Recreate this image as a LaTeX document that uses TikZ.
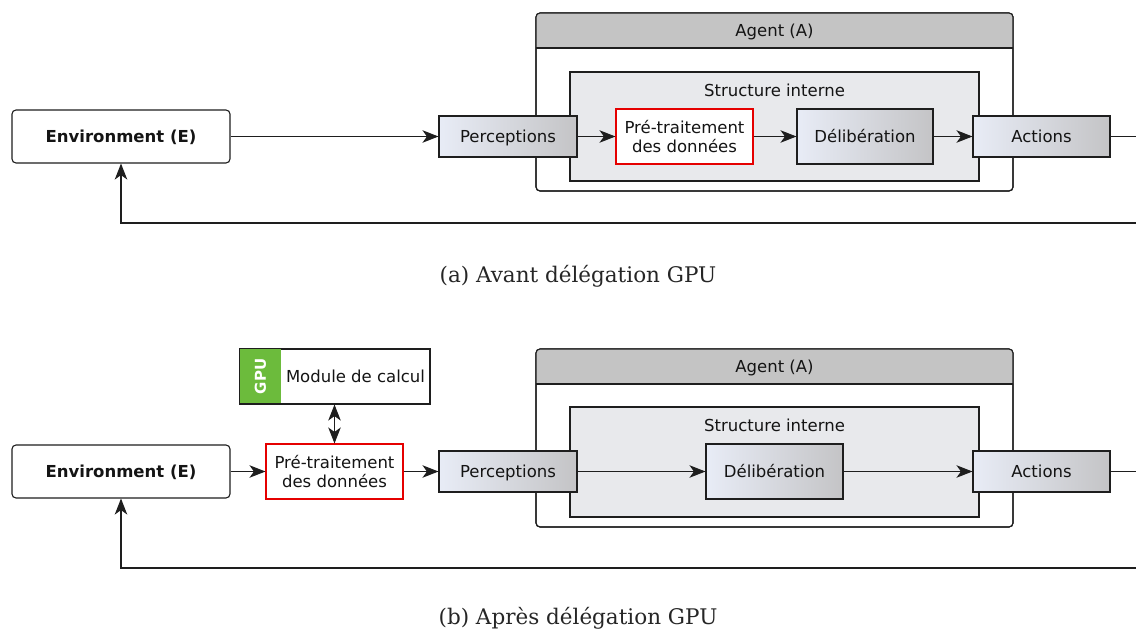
\documentclass[tikz,border=0pt]{standalone}
\usepackage{fontspec}
\newfontfamily\dv{DejaVu Sans}
\newfontfamily\capf{DejaVu Serif}
\usetikzlibrary{arrows.meta}
\definecolor{gradL}{RGB}{232,236,246}
\definecolor{gradR}{RGB}{196,196,198}
\definecolor{strfill}{RGB}{232,233,236}
\definecolor{hdrfill}{RGB}{196,196,196}
\definecolor{gpugreen}{RGB}{108,187,60}
\definecolor{edge}{RGB}{30,30,30}
\tikzset{
  tip/.tip={Stealth[length=16pt,width=12.5pt,inset=4.5pt]},
  box/.style={draw=edge, line width=1.1pt, inner sep=0pt, align=center,
    font=\dv\fontsize{16.5}{19.5}\selectfont, text=black!92},
  oneline/.style={text height=12pt, text depth=0pt},
  gbox/.style={box, oneline, left color=gradL, right color=gradR},
  redbox/.style={box, draw=red!90!black, fill=white},
  envbox/.style={box, oneline, fill=white, rounded corners=4pt, font=\dv\bfseries\fontsize{16.5}{19.5}\selectfont},
  contbox/.style={draw=edge, line width=1.1pt, inner sep=0pt},
  lbl/.style={inner sep=0pt, oneline, font=\dv\fontsize{16.5}{19.5}\selectfont, text=black!92},
  conn/.style={draw=edge, line width=1.1pt, -tip},
  plain/.style={draw=edge, line width=1.1pt},
  dconn/.style={draw=edge, line width=1.1pt, tip-tip},
  caption/.style={inner sep=0pt, font=\capf\fontsize{21.5}{24}\selectfont, text=black!85}
}
\begin{document}
\begin{tikzpicture}[x=1pt,y=-1pt]
\path[use as bounding box, clip] (0,0) rectangle (1136,632);
\fill[white] (0,0) rectangle (1136,632);

% ================= (a) =================
\node[envbox, minimum width=218pt, minimum height=53pt] (envA) at (121,136.5) {Environment (E)};
% agent container
\node[contbox, fill=white, rounded corners=4pt, minimum width=477pt, minimum height=178pt] (agentA) at (774.5,102) {};
\fill[hdrfill] (536,48) {[rounded corners=4pt] -- (536,13) -- (1013,13)} -- (1013,48) -- cycle;
\draw[plain] (536,48) -- (1013,48);
\draw[plain, rounded corners=4pt] (536,13) rectangle (1013,191);
\node[lbl] (agentAl) at (774.5,30.5) {Agent (A)};
% structure interne
\node[contbox, fill=strfill, minimum width=409pt, minimum height=109pt] (strA) at (774.5,126.5) {};
\node[lbl] (strAl) at (774.5,90) {Structure interne};
\node[redbox, minimum width=137pt, minimum height=55pt] (preA) at (684.5,136.5) {Pré-traitement\\des données};
\node[gbox, minimum width=136pt, minimum height=55pt] (delA) at (865,136.5) {Délibération};
\node[gbox, minimum width=138pt, minimum height=41pt] (percA) at (508,136.5) {Perceptions};
\node[gbox, minimum width=137pt, minimum height=41pt] (actA) at (1041.5,136.5) {Actions};
\coordinate (outA) at (1150,136.5);
\coordinate (retA) at (1150,223);
\draw[conn] (envA) -- (percA);
\draw[conn] (percA) -- (preA);
\draw[conn] (preA) -- (delA);
\draw[conn] (delA) -- (actA);
\draw[conn] (actA.east) -- (outA) -- (retA) -| (envA.south);
\node[caption] (capA) at (578,276) {(a) Avant délégation GPU};

% ================= (b) =================
\node[envbox, minimum width=218pt, minimum height=53pt] (envB) at (121,471.5) {Environment (E)};
% GPU module
\node[box, fill=white, minimum width=190pt, minimum height=55pt] (gpuB) at (335,376.5) {};
\fill[gpugreen] ([xshift=0.55pt,yshift=-0.55pt]gpuB.north west) rectangle (281,403.45);
\draw[plain] (gpuB.north west) rectangle (gpuB.south east);
\node[inner sep=0pt, rotate=90, text=white, font=\dv\bfseries\fontsize{15}{18}\selectfont] (gpuBl) at (260.5,376.5) {GPU};
\node[lbl] (gpuBt) at (355.5,376.5) {Module de calcul};
\node[redbox, minimum width=137pt, minimum height=55pt] (preB) at (334.5,471.5) {Pré-traitement\\des données};
% agent container
\node[contbox, fill=white, rounded corners=4pt, minimum width=477pt, minimum height=178pt] (agentB) at (774.5,438) {};
\fill[hdrfill] (536,384) {[rounded corners=4pt] -- (536,349) -- (1013,349)} -- (1013,384) -- cycle;
\draw[plain] (536,384) -- (1013,384);
\draw[plain, rounded corners=4pt] (536,349) rectangle (1013,527);
\node[lbl] (agentBl) at (774.5,366.5) {Agent (A)};
\node[contbox, fill=strfill, minimum width=409pt, minimum height=110pt] (strB) at (774.5,462) {};
\node[lbl] (strBl) at (774.5,425) {Structure interne};
\node[gbox, minimum width=137pt, minimum height=55pt] (delB) at (774.5,471.5) {Délibération};
\node[gbox, minimum width=138pt, minimum height=41pt] (percB) at (508,471.5) {Perceptions};
\node[gbox, minimum width=137pt, minimum height=41pt] (actB) at (1041.5,471.5) {Actions};
\coordinate (outB) at (1150,471.5);
\coordinate (retB) at (1150,568);
\draw[conn] (envB) -- (preB);
\draw[dconn] (gpuB.south -| preB.north) -- (preB.north);
\draw[conn] (preB) -- (percB);
\draw[conn] (percB) -- (delB);
\draw[conn] (delB) -- (actB);
\draw[conn] (actB.east) -- (outB) -- (retB) -| (envB.south);
\node[caption] (capB) at (578,618) {(b) Après délégation GPU};
\end{tikzpicture}
\end{document}
